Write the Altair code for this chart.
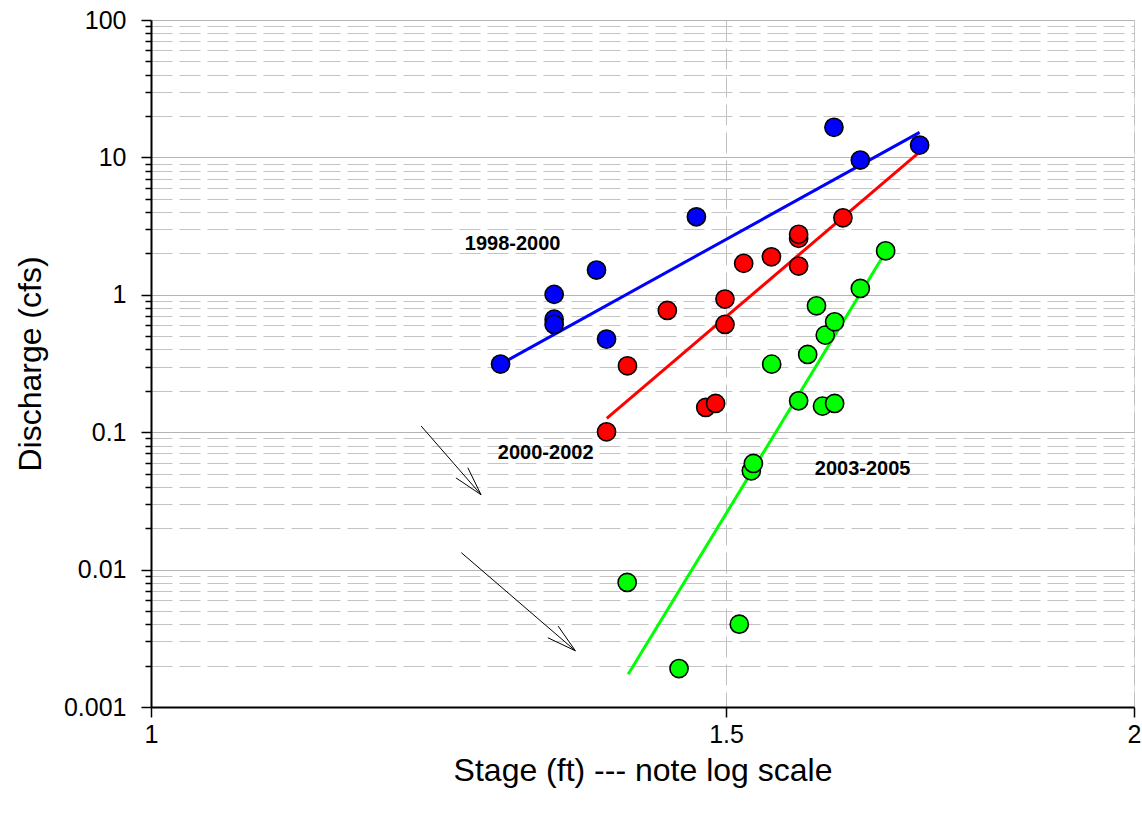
import altair as alt
import pandas as pd

# ---- data ----
blue_x = [1.2795, 1.3288, 1.3288, 1.3288, 1.3691, 1.3788, 1.4690, 1.6186, 1.6490, 1.7194]
blue_y = [0.313, 1.007, 0.665, 0.609, 1.513, 0.476, 3.698, 16.55, 9.565, 12.30]

red_x = [1.3788, 1.3993, 1.4392, 1.4787, 1.4890, 1.4989, 1.4989, 1.5188, 1.5488,
         1.5788, 1.5788, 1.5788, 1.6289]
red_y = [0.1006, 0.3041, 0.7697, 0.1515, 0.1620, 0.9304, 0.6089, 1.693, 1.891,
         1.618, 2.574, 2.754, 3.636]

green_x = [1.3990, 1.4511, 1.5141, 1.5270, 1.5292, 1.5491, 1.5788, 1.5889, 1.5988,
           1.6056, 1.6087, 1.6194, 1.6194, 1.6490, 1.6787]
green_y = [0.00806, 0.001905, 0.004004, 0.05232, 0.05923, 0.3129, 0.1692, 0.3682,
           0.8317, 0.1548, 0.5088, 0.1620, 0.6361, 1.113, 2.091]

# fitted lines (end points)
blue_line_x = [1.2795, 1.7194]
blue_line_y = [0.313, 15.2]
red_line_x = [1.3790, 1.7174]
red_line_y = [0.1259, 10.70]
green_line_x = [1.4000, 1.6787]
green_line_y = [0.00173, 2.05]

series_names = ["1998-2000", "2000-2002", "2003-2005"]
series_colors = ["#0000FF", "#FF0000", "#00FF00"]

# labels
label_text = ["1998-2000", "2000-2002", "2003-2005"]
label_x = [1.2905, 1.3209, 1.6517]
label_y = [2.33, 0.0701, 0.0536]

# arrows (segments: shaft + two head wings)
arrow_x1 = [1.2098, 1.2620, 1.2620, 1.2446, 1.3488, 1.3488]
arrow_y1 = [0.111, 0.0351, 0.0351, 0.01328, 0.002566, 0.002566]
arrow_x2 = [1.2620, 1.2503, 1.2399, 1.3488, 1.3325, 1.3229]
arrow_y2 = [0.0351, 0.0552, 0.0465, 0.002566, 0.003884, 0.003192]

# axis ticks
x_ticks = [1, 1.5, 2]
y_ticks = []
for dec in [0.001, 0.01, 0.1, 1, 10]:
    for m in range(1, 10):
        y_ticks.append(round(dec * m, 6))
y_ticks.append(100)

# ---- tables ----
pts = pd.DataFrame({
    "x": blue_x + red_x + green_x,
    "y": blue_y + red_y + green_y,
    "s": [series_names[0]] * len(blue_x) + [series_names[1]] * len(red_x)
         + [series_names[2]] * len(green_x),
})
lines = pd.DataFrame({
    "x": blue_line_x + red_line_x + green_line_x,
    "y": blue_line_y + red_line_y + green_line_y,
    "s": [series_names[0]] * 2 + [series_names[1]] * 2 + [series_names[2]] * 2,
})
labels = pd.DataFrame({"x": label_x, "y": label_y, "t": label_text})
arrows = pd.DataFrame({"x": arrow_x1, "y": arrow_y1, "x2": arrow_x2, "y2": arrow_y2})

FONT = "Liberation Sans"
MAJOR = "abs(log(datum.value)/LN10 - round(log(datum.value)/LN10)) < 0.001"

xscale = alt.Scale(type="log", domain=[1, 2], nice=False)
yscale = alt.Scale(type="log", domain=[0.001, 100], nice=False)

xaxis = alt.Axis(
    values=x_ticks, format="~g", title="Stage (ft) --- note log scale",
    grid=True, gridColor="#c0c0c0", gridDash=[21, 7], gridWidth=1,
    tickSize=10, tickColor="black", tickWidth=1.5,
    domainColor="black", domainWidth=2,
    labelFont=FONT, labelFontSize=25, labelColor="black", labelPadding=5,
    labelFlush=False, labelOverlap=False,
    titleFont=FONT, titleFontSize=32, titleFontWeight="normal", titleColor="black",
    titleBaseline="alphabetic", titleY=73,
)
yaxis = alt.Axis(
    values=y_ticks, format="~g", title="Discharge (cfs)",
    labelExpr=MAJOR + " ? datum.label : ''",
    grid=True,
    gridColor={"condition": {"test": MAJOR, "value": "#b4b4b4"}, "value": "#c4c4c4"},
    gridDash={"condition": {"test": MAJOR, "value": []}, "value": [21, 7]},
    gridWidth=1,
    tickSize={"condition": {"test": MAJOR, "value": 10}, "value": 6},
    tickColor="black", tickWidth=1.5,
    domainColor="black", domainWidth=2,
    labelFont=FONT, labelFontSize=25, labelColor="black", labelPadding=15,
    labelFlush=False, labelOverlap=False,
    titleFont=FONT, titleFontSize=32, titleFontWeight="normal", titleColor="black",
    titleBaseline="middle", titleX=-121,
)

X = alt.X("x:Q", scale=xscale, axis=xaxis)
Y = alt.Y("y:Q", scale=yscale, axis=yaxis)
color = alt.Color("s:N", scale=alt.Scale(domain=series_names, range=series_colors), legend=None)

line_layer = alt.Chart(lines).mark_line(strokeWidth=3, clip=True).encode(
    x=X, y=Y, color=color, detail="s:N"
)
point_layer = alt.Chart(pts).mark_circle(
    size=330, stroke="black", strokeWidth=1.6, opacity=1
).encode(x=X, y=Y, color=color)
text_layer = alt.Chart(labels).mark_text(
    font=FONT, fontSize=20, fontWeight="bold", color="black", align="center", baseline="middle"
).encode(x=X, y=Y, text="t:N")
arrow_layer = alt.Chart(arrows).mark_rule(color="black", strokeWidth=1).encode(
    x=X, y=Y, x2="x2:Q", y2="y2:Q"
)

chart = alt.layer(line_layer, arrow_layer, point_layer, text_layer).properties(
    width=983, height=687,
    autosize=alt.AutoSizeParams(type="none"),
    padding={"left": 151, "top": 20, "right": 8, "bottom": 107},
).configure_view(stroke="black", strokeWidth=2).configure(background="white")

chart.save("out.html", embed_options={"renderer": "svg", "actions": False})
